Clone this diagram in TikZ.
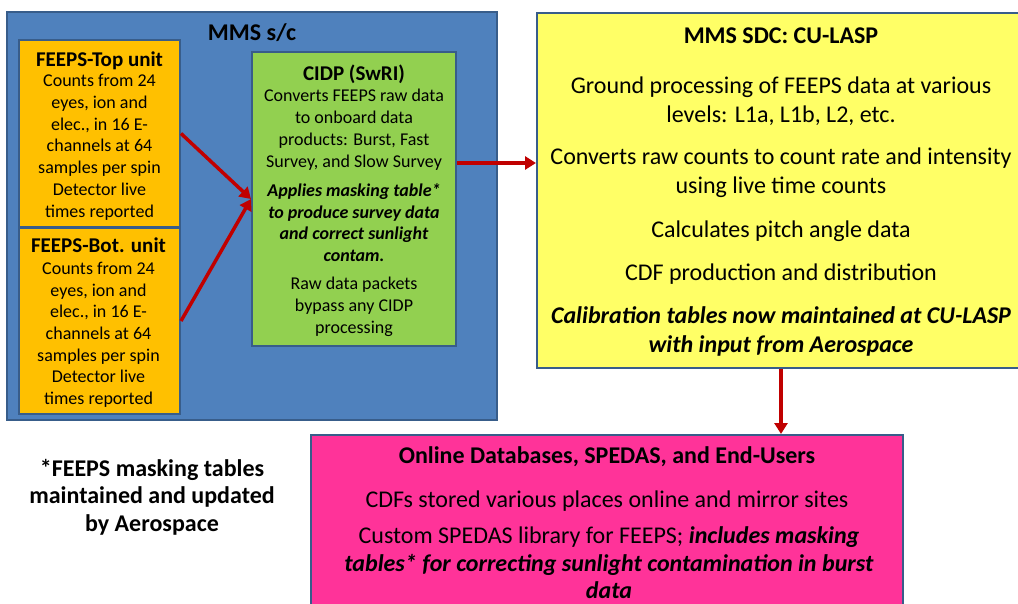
\documentclass[tikz,border=0pt]{standalone}
\usepackage{fontspec}
\setmainfont{Carlito}
\usetikzlibrary{arrows.meta}
\definecolor{scblue}{HTML}{4F81BD}
\definecolor{edgeblue}{HTML}{385D8A}
\definecolor{unitorange}{HTML}{FFC000}
\definecolor{cidpgreen}{HTML}{92D050}
\definecolor{sdcyellow}{HTML}{FFFF66}
\definecolor{userpink}{HTML}{FF3399}
\definecolor{flowred}{HTML}{C00000}
\begin{document}
\begin{tikzpicture}[x=1pt,y=-1pt,
  panel/.style={draw=edgeblue, line width=2pt, inner sep=0pt, outer sep=1pt},
  txt/.style={anchor=base, align=center, inner sep=0pt},
  ttl/.style={txt, font=\fontsize{21}{25}\selectfont\bfseries},
  bigttl/.style={txt, font=\fontsize{24}{29}\selectfont\bfseries},
  small/.style={txt, font=\fontsize{18}{21.7}\selectfont},
  large/.style={txt, font=\fontsize{24}{29}\selectfont},
  lower/.style={txt, font=\fontsize{24}{27.5}\selectfont},
  flow/.style={draw=flowred, line width=3.5pt, -{Triangle[length=11pt,width=13pt]}},
]
\useasboundingbox (0,0) rectangle (1018,603);
\clip (0,0) rectangle (1018,603);
\fill[white] (0,0) rectangle (1018,603);

% boxes
\node[panel, fill=scblue, minimum width=490pt, minimum height=408pt] (sc) at (252,216) {};
\node[panel, fill=unitorange, minimum width=161pt, minimum height=187pt] (top) at (99.5,133.5) {};
\node[panel, fill=unitorange, minimum width=161pt, minimum height=186pt] (bot) at (99.5,321) {};
\node[panel, fill=cidpgreen, minimum width=204pt, minimum height=294pt] (cidp) at (354,199) {};
\node[panel, fill=sdcyellow, minimum width=488pt, minimum height=355pt] (sdc) at (781,190.5) {};
\node[panel, fill=userpink, minimum width=592pt, minimum height=205pt] (users) at (607,537.5) {};

% spacecraft (anchors are at the baseline of the last line)
\node[bigttl] (sctitle) at (252,40) {MMS s/c};

% FEEPS top
\node[ttl] (toptitle) at (99.5,66) {FEEPS-Top unit};
\node[small] (topbody) at (99.5,217) {Counts from 24\\eyes, ion and\\elec., in 16 E-\\channels at 64\\samples per spin\\Detector live\\times reported};

% FEEPS bottom
\node[ttl] (bottitle) at (98.5,252) {FEEPS-Bot. unit};
\node[small] (botbody) at (98.5,404.5) {Counts from 24\\eyes, ion and\\elec., in 16 E-\\channels at 64\\samples per spin\\Detector live\\times reported};

% CIDP
\node[ttl] (cidptitle) at (354,80) {CIDP (SwRI)};
\node[small] (cidpa) at (354,167) {Converts FEEPS raw data\\to onboard data\\products: Burst, Fast\\Survey, and Slow Survey};
\node[small, font=\fontsize{18}{21.7}\selectfont\bfseries\itshape] (cidpb) at (354,261.5) {Applies masking table*\\to produce survey data\\and correct sunlight\\contam.};
\node[small] (cidpc) at (354,333) {Raw data packets\\bypass any CIDP\\processing};

% SDC
\node[bigttl] (sdctitle) at (781,43) {MMS SDC: CU-LASP};
\node[large] (sdca) at (781,122) {Ground processing of FEEPS data at various\\levels: L1a, L1b, L2, etc.};
\node[large] (sdcb) at (781,193.5) {Converts raw counts to count rate and intensity\\using live time counts};
\node[large] (sdcc) at (781,237) {Calculates pitch angle data};
\node[large] (sdcd) at (781,280) {CDF production and distribution};
\node[large, font=\fontsize{24}{29}\selectfont\bfseries\itshape] (sdce) at (781,352) {Calibration tables now maintained at CU-LASP\\with input from Aerospace};

% users
\node[lower, font=\fontsize{24}{27.5}\selectfont\bfseries] (usertitle) at (607,463) {Online Databases, SPEDAS, and End-Users};
\node[lower] (usera) at (607,507) {CDFs stored various places online and mirror sites};
\node[lower] (userb) at (609,598.5) {Custom SPEDAS library for FEEPS; \textbf{\textit{includes masking}}\\\textbf{\textit{tables* for correcting sunlight contamination in burst}}\\\textbf{\textit{data}}};

% footnote
\node[lower, font=\fontsize{24}{27.5}\selectfont\bfseries] (note) at (152,531) {*FEEPS masking tables\\maintained and updated\\by Aerospace};

% connectors
\coordinate (cidpout) at (454,163);
\draw[flow] (top.east) -- (cidp.west);
\draw[flow] (bot.east) -- (cidp.west);
\draw[flow] (cidp.east |- cidpout) -- (sdc.west |- cidpout);
\draw[flow] (sdc.south) -- (sdc.south |- users.north);
\end{tikzpicture}
\end{document}
